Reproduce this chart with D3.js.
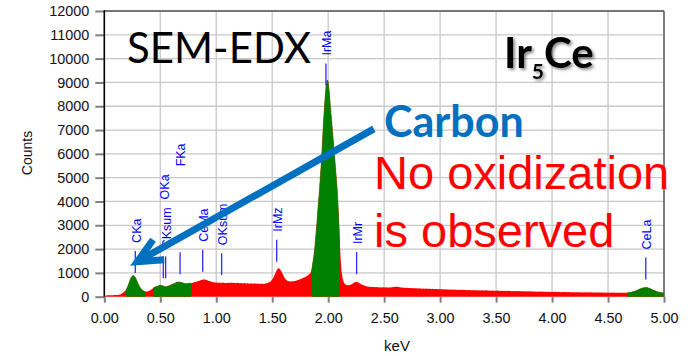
<!DOCTYPE html>
<html>
<head>
<meta charset="utf-8">
<script src="https://cdn.jsdelivr.net/npm/d3@7/dist/d3.min.js"></script>
<style>
  html, body { margin: 0; padding: 0; background: #fff; }
  svg { display: block; }
</style>
</head>
<body>
<script>
// EDX spectrum of Ir5Ce: counts per 0.01 keV channel, 0.00 – 5.00 keV
const channelStep = 0.01;
const counts = [
  20, 45, 52, 58, 60, 63, 60, 66, 62, 67,
  70, 68, 74, 78, 88, 108, 140, 172, 215, 262,
  330, 440, 570, 700, 800, 870, 895, 860, 780, 680,
  570, 470, 390, 325, 275, 245, 220, 208, 215, 228,
  242, 268, 300, 338, 375, 402, 418, 437, 452, 468,
  482, 470, 458, 445, 430, 418, 432, 446, 462, 480,
  502, 522, 544, 566, 584, 602, 614, 622, 612, 596,
  582, 566, 552, 546, 550, 556, 562, 566, 570, 585,
  602, 618, 628, 642, 656, 672, 690, 706, 722, 732,
  716, 702, 688, 672, 656, 640, 626, 612, 602, 592,
  586, 594, 580, 598, 588, 576, 592, 584, 570, 588,
  578, 590, 574, 582, 596, 572, 584, 578, 566, 582,
  572, 560, 578, 566, 556, 574, 562, 552, 570, 558,
  548, 566, 556, 544, 560, 552, 540, 556, 546, 538,
  552, 542, 534, 548, 556, 566, 580, 600, 624, 664,
  722, 800, 900, 1010, 1110, 1180, 1190, 1150, 1080, 990,
  890, 800, 730, 690, 662, 646, 640, 638, 646, 652,
  660, 672, 684, 698, 714, 730, 750, 770, 792, 816,
  842, 870, 902, 940, 985, 1100, 1350, 1650, 2050, 2600,
  3150, 3800, 4350, 5050, 5700, 6650, 7500, 8200, 8800, 9100,
  9050, 8600, 8000, 7450, 6900, 6300, 5750, 5150, 4550, 3700,
  2700, 1700, 1050, 750, 600, 530, 500, 486, 480, 490,
  500, 522, 550, 582, 610, 626, 620, 600, 570, 540,
  512, 490, 472, 456, 442, 430, 422, 414, 410, 404,
  404, 410, 398, 406, 394, 402, 390, 398, 388, 396,
  392, 384, 396, 388, 380, 392, 386, 398, 404, 410,
  414, 420, 418, 412, 400, 390, 382, 378, 372, 376,
  368, 374, 362, 368, 358, 364, 354, 360, 350, 356,
  346, 352, 342, 348, 338, 344, 336, 342, 332, 338,
  330, 336, 326, 332, 322, 328, 320, 326, 316, 322,
  312, 318, 308, 314, 304, 310, 300, 306, 298, 304,
  296, 302, 292, 298, 288, 296, 286, 292, 284, 290,
  282, 288, 278, 286, 276, 282, 272, 280, 270, 276,
  270, 276, 266, 272, 264, 270, 260, 268, 258, 264,
  260, 266, 256, 262, 254, 260, 250, 258, 248, 254,
  252, 258, 248, 254, 244, 250, 242, 248, 238, 246,
  240, 246, 236, 244, 234, 240, 232, 238, 228, 236,
  230, 236, 226, 232, 224, 230, 222, 228, 220, 226,
  220, 226, 216, 222, 214, 220, 212, 218, 210, 216,
  210, 216, 206, 212, 204, 210, 202, 208, 200, 206,
  202, 208, 198, 204, 196, 202, 194, 200, 192, 198,
  194, 200, 190, 196, 188, 194, 186, 192, 186, 190,
  186, 192, 184, 190, 182, 188, 180, 186, 180, 184,
  180, 186, 178, 184, 176, 182, 176, 180, 174, 180,
  174, 180, 172, 178, 172, 176, 170, 176, 168, 174,
  170, 176, 168, 174, 166, 172, 166, 170, 164, 170,
  166, 170, 162, 168, 164, 168, 162, 168, 170, 176,
  184, 194, 206, 220, 236, 254, 274, 294, 314, 334,
  352, 368, 380, 388, 390, 384, 370, 352, 330, 308,
  286, 266, 246, 228, 212, 198, 186, 176, 168, 162,
  158
];

// Element regions of interest (filled green)
const roiStart = [0.194, 0.435, 1.852, 4.672];
const roiEnd   = [0.370, 0.775, 2.104, 5.000];

// Line markers
const peakNames    = ["CKa", "OKa", "CKsum", "FKa", "CeMa", "OKsum", "IrMz", "IrMa", "IrMr", "CeLa"];
const peakKeV      = [0.277, 0.527, 0.548, 0.677, 0.879, 1.048, 1.540, 1.980, 2.254, 4.837];
const markerCounts = [1000, 770, 770, 940, 1045, 905, 1470, 8870, 950, 725];
const stackedOn    = ["", "CKsum", "", "OKa", "", "", "", "", "", ""];

// Axis ticks
const xTicks = [0, 0.5, 1, 1.5, 2, 2.5, 3, 3.5, 4, 4.5, 5];
const yTicks = [0, 1000, 2000, 3000, 4000, 5000, 6000, 7000, 8000, 9000, 10000, 11000, 12000];

const W = 692, H = 356;
const svg = d3.select("body").append("svg").attr("width", W).attr("height", H);

const x = d3.scaleLinear().domain([0, 5]).range([104.3, 664]);
const y = d3.scaleLinear().domain([0, 12000]).range([296.7, 11]);

const points = counts.map((c, i) => ({ e: i * channelStep, c }));

// grid
const grid = svg.append("g");
grid.selectAll("line.h").data(yTicks.slice(1)).join("line")
  .attr("x1", x(0)).attr("x2", x(5))
  .attr("y1", d => y(d)).attr("y2", d => y(d))
  .attr("stroke", "#c8c8c8").attr("stroke-width", 1.3);
grid.selectAll("line.v").data(xTicks.slice(1, -1)).join("line")
  .attr("x1", d => x(d)).attr("x2", d => x(d))
  .attr("y1", y(0)).attr("y2", y(12000))
  .attr("stroke", "#c8c8c8").attr("stroke-width", 1.3);

// spectrum: whole trace in red, element windows over it in green
const area = d3.area().x(d => x(d.e)).y0(y(0)).y1(d => y(d.c));
svg.append("path").datum(points).attr("d", area).attr("fill", "#ff0000");

const clip = svg.append("defs").append("clipPath").attr("id", "roi");
clip.selectAll("rect").data(roiStart.map((s, i) => [s, roiEnd[i]])).join("rect")
  .attr("x", d => x(d[0])).attr("width", d => x(d[1]) - x(d[0]))
  .attr("y", 0).attr("height", H);
svg.append("path").datum(points).attr("d", area)
  .attr("fill", "#008000").attr("stroke", "#4d6b00").attr("stroke-width", 0.6)
  .attr("clip-path", "url(#roi)");

// axes
const tickFont = "'Liberation Sans', Arial, sans-serif";
const yAxis = svg.append("g").attr("transform", `translate(${x(0)},0)`)
  .call(d3.axisLeft(y).tickValues(yTicks).tickFormat(d3.format("d")).tickSize(9).tickPadding(6));
const xAxis = svg.append("g").attr("transform", `translate(0,${y(0)})`)
  .call(d3.axisBottom(x).tickValues(xTicks).tickFormat(d3.format(".2f")).tickSize(6).tickPadding(10));
[yAxis, xAxis].forEach(g => {
  g.select(".domain").remove();
  g.selectAll(".tick line").attr("stroke", "#808080").attr("stroke-width", 2);
  g.selectAll(".tick text").attr("fill", "#111").style("font-family", tickFont).style("font-size", "14.4px");
});

// frame
svg.append("line").attr("x1", x(0)).attr("x2", x(5)).attr("y1", y(12000)).attr("y2", y(12000))
  .attr("stroke", "#555").attr("stroke-width", 1.5);
svg.append("line").attr("x1", x(5)).attr("x2", x(5)).attr("y1", y(12000)).attr("y2", y(0))
  .attr("stroke", "#555").attr("stroke-width", 1.5);
svg.append("line").attr("x1", x(0)).attr("x2", x(0)).attr("y1", y(12000) - 0.75).attr("y2", y(0))
  .attr("stroke", "#000").attr("stroke-width", 1.6);

// axis titles
svg.append("text").attr("x", 397).attr("y", 351).attr("text-anchor", "middle")
  .style("font-family", tickFont).style("font-size", "15px").attr("fill", "#111").text("keV");
svg.append("text").attr("transform", "translate(32,153) rotate(-90)").attr("text-anchor", "middle")
  .style("font-family", tickFont).style("font-size", "14px").attr("fill", "#111").text("Counts");

// peak markers
const lineLen = 22, gap = 8;
const markers = svg.append("g");
const placed = {};
peakNames.forEach((name, i) => {
  const mx = x(peakKeV[i]);
  const base = y(markerCounts[i]);
  markers.append("line").attr("x1", mx).attr("x2", mx).attr("y1", base).attr("y2", base - lineLen)
    .attr("stroke", "#2b2bff").attr("stroke-width", 1.3);
});
// labels, stacked ones after the label they sit on
const order = peakNames.map((n, i) => i).sort((a, b) => (stackedOn[a] ? 1 : 0) - (stackedOn[b] ? 1 : 0));
order.forEach(i => {
  const name = peakNames[i];
  const mx = x(peakKeV[i]) + 1;
  let start = stackedOn[i] ? placed[stackedOn[i]] - gap : y(markerCounts[i]) - lineLen - gap;
  const t = markers.append("text")
    .attr("transform", `translate(${mx},${start}) rotate(-90)`)
    .attr("dy", "0.35em")
    .style("font-family", tickFont).style("font-size", "12.5px")
    .attr("fill", "#0000ff").text(name);
  placed[name] = start - t.node().getComputedTextLength();
});

// annotations
svg.append("text").attr("x", 127).attr("y", 62.7)
  .style("font-family", "Lato, sans-serif").style("font-size", "42px").attr("fill", "#000")
  .text("SEM-EDX");

const defs = svg.select("defs");
const shadow = defs.append("filter").attr("id", "shadow").attr("x", "-20%").attr("y", "-20%").attr("width", "140%").attr("height", "140%");
shadow.append("feDropShadow").attr("dx", 2).attr("dy", 2).attr("stdDeviation", 1.5)
  .attr("flood-color", "#000").attr("flood-opacity", 0.45);
const formula = svg.append("text").attr("x", 504).attr("y", 68.3)
  .style("font-family", "Lato, sans-serif").style("font-size", "42px").style("font-weight", 700)
  .attr("fill", "#000").attr("filter", "url(#shadow)");
formula.append("tspan").text("Ir");
formula.append("tspan").attr("dy", 11).style("font-size", "21px").text("5");
formula.append("tspan").attr("dy", -11).text("Ce");

svg.append("text").attr("x", 384).attr("y", 136.7)
  .style("font-family", "Lato, sans-serif").style("font-size", "43px").style("font-weight", 700)
  .attr("fill", "#0070c0").text("Carbon");

const note = svg.append("text").style("font-family", tickFont).style("font-size", "47px").attr("fill", "#ff0000");
note.append("tspan").attr("x", 374).attr("y", 189.3).text("No oxidization");
note.append("tspan").attr("x", 374).attr("y", 246.7).text("is observed");

// arrow pointing at the carbon peak
const tail = [x(2.408), y(7050)];
const tip = [x(0.295), y(1470)];
const ang = Math.atan2(tail[1] - tip[1], tail[0] - tip[0]);
const headLen = 27, spread = 25 * Math.PI / 180;
const wing = s => [tip[0] + headLen * Math.cos(ang + s), tip[1] + headLen * Math.sin(ang + s)];
svg.append("line").attr("x1", tail[0]).attr("y1", tail[1]).attr("x2", tip[0] + 3 * Math.cos(ang)).attr("y2", tip[1] + 3 * Math.sin(ang))
  .attr("stroke", "#0070c0").attr("stroke-width", 7);
svg.append("path").attr("d", d3.line()([wing(spread), tip, wing(-spread)]))
  .attr("fill", "none").attr("stroke", "#0070c0").attr("stroke-width", 7)
  .attr("stroke-linejoin", "miter").attr("stroke-miterlimit", 10);
</script>
</body>
</html>
